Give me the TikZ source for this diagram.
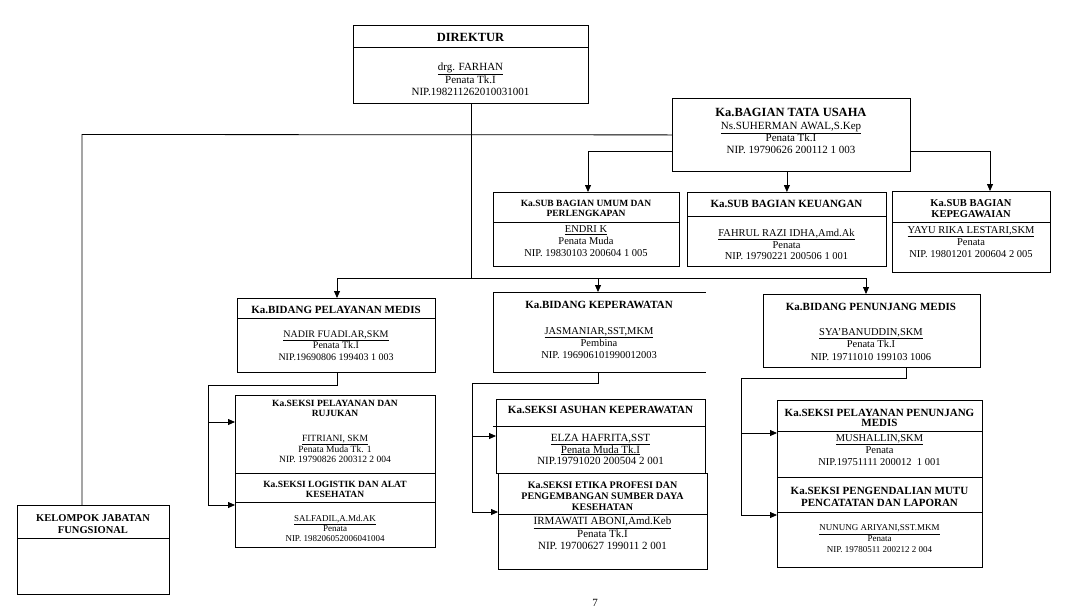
\documentclass[tikz,border=0pt]{standalone}
\usepackage{fontspec}
\setmainfont{Liberation Serif}
\usetikzlibrary{arrows.meta}
\newcommand{\fsz}[2]{\fontsize{#1}{#2}\selectfont}
\begin{document}
\begin{tikzpicture}[x=1pt,y=-1pt,
  box/.style={draw,line width=0.8pt,inner sep=0pt,anchor=north west},
  txt/.style={inner sep=0pt,align=center},
  ln/.style={line width=0.8pt},
  arr/.style={line width=0.8pt,-{Triangle[length=7pt,width=6pt]}}]
\useasboundingbox (0,0) rectangle (1067,608);
% boxes
\node[box,minimum width=235pt,minimum height=78pt] (dir) at (353,25) {};
\node[box,minimum width=238pt,minimum height=73pt] (tu) at (672,98) {};
\node[box,minimum width=186pt,minimum height=74pt] (sb1) at (493,192) {};
\node[box,minimum width=199pt,minimum height=74pt] (sb2) at (687,192) {};
\node[box,minimum width=158pt,minimum height=81pt] (sb3) at (892,191) {};
\node[box,minimum width=198pt,minimum height=74pt] (b1) at (237,298) {};
\node[box,draw=none,minimum width=212pt,minimum height=80pt] (b2) at (493,292) {};
\draw[ln] (b2.north east) -- (b2.north west) -- (b2.south west) -- (b2.south east);
\node[box,minimum width=217pt,minimum height=73pt] (b3) at (763,294) {};
\node[box,minimum width=200pt,minimum height=78pt] (s1a) at (235,395) {};
\node[box,minimum width=200pt,minimum height=74pt] (s1b) at (235,473) {};
\node[box,minimum width=209pt,minimum height=74pt] (s2a) at (496,399) {};
\node[box,minimum width=209pt,minimum height=96pt] (s2b) at (498,473) {};
\node[box,minimum width=205pt,minimum height=77pt] (s3a) at (777,400) {};
\node[box,minimum width=205pt,minimum height=90pt] (s3b) at (777,477) {};
\node[box,minimum width=152pt,minimum height=89pt] (kel) at (17,505) {};
% dividers
\draw[ln] (353,47) -- (588,47);
\draw[ln] (493,222) -- (679,222);
\draw[ln] (687,216) -- (886,216);
\draw[ln] (892,222) -- (1050,222);
\draw[ln] (237,318) -- (435,318);
\draw[ln] (235,502) -- (435,502);
\draw[ln] (493,426) -- (705,426);
\draw[ln] (498,514) -- (707,514);
\draw[ln] (777,431) -- (982,431);
\draw[ln] (777,512) -- (982,512);
\draw[ln] (17,538) -- (169,538);
% texts
\node[txt,font=\fsz{12.5}{14}\bfseries] (dirT) at (470.5,37) {DIREKTUR};
\node[txt,font=\fsz{11}{12.5}] (dirB) at (470.5,79.5) {\underline{drg. FARHAN}\\Penata Tk.I\\NIP.198211262010031001};
\node[txt,font=\fsz{12.5}{14}\bfseries] (tuT) at (791,112) {Ka.BAGIAN TATA USAHA};
\node[txt,font=\fsz{11}{12}] (tuB) at (791,138) {\underline{Ns.SUHERMAN AWAL,S.Kep}\\Penata Tk.I\\NIP. 19790626 200112 1 003};
\node[txt,font=\fsz{9.5}{10}\bfseries] (sb1T) at (586,208) {Ka.SUB BAGIAN UMUM DAN\\PERLENGKAPAN};
\node[txt,font=\fsz{10.5}{12}] (sb1B) at (586,241) {\underline{ENDRI K}\\Penata Muda\\NIP. 19830103 200604 1 005};
\node[txt,font=\fsz{11}{12}\bfseries] (sb2T) at (786.5,204) {Ka.SUB BAGIAN KEUANGAN};
\node[txt,font=\fsz{10.5}{11.5}] (sb2B) at (786.5,244.5) {\underline{FAHRUL RAZI IDHA,Amd.Ak}\\Penata\\NIP. 19790221 200506 1 001};
\node[txt,font=\fsz{10.5}{11}\bfseries] (sb3T) at (971,208.5) {Ka.SUB BAGIAN\\KEPEGAWAIAN};
\node[txt,font=\fsz{10.5}{12}] (sb3B) at (971,242) {\underline{YAYU RIKA LESTARI,SKM}\\Penata\\NIP. 19801201 200604 2 005};
\node[txt,font=\fsz{11}{12}\bfseries] (b1T) at (336,310) {Ka.BIDANG PELAYANAN MEDIS};
\node[txt,font=\fsz{10}{11.5}] (b1B) at (336,345.5) {\underline{NADIR FUADI.AR,SKM}\\Penata Tk.I\\NIP.19690806 199403 1 003};
\node[txt,font=\fsz{11}{12}\bfseries] (b2T) at (599,305) {Ka.BIDANG KEPERAWATAN};
\node[txt,font=\fsz{10.5}{12}] (b2B) at (599,343) {\underline{JASMANIAR,SST,MKM}\\Pembina\\NIP. 196906101990012003};
\node[txt,font=\fsz{11}{12}\bfseries] (b3T) at (871,307) {Ka.BIDANG PENUNJANG MEDIS};
\node[txt,font=\fsz{10.5}{12.5}] (b3B) at (871,344.5) {\underline{SYA’BANUDDIN,SKM}\\Penata Tk.I\\NIP. 19711010 199103 1006};
\node[txt,font=\fsz{9.5}{9.5}\bfseries] (s1aT) at (335,408.5) {Ka.SEKSI PELAYANAN DAN\\RUJUKAN};
\node[txt,font=\fsz{9.5}{10}] (s1aB) at (335,449) {\underline{FITRIANI, SKM}\\Penata Muda Tk. 1\\NIP. 19790826 200312 2 004};
\node[txt,font=\fsz{9.5}{10}\bfseries] (s1bT) at (335,489) {Ka.SEKSI LOGISTIK DAN ALAT\\KESEHATAN};
\node[txt,font=\fsz{9}{10}] (s1bB) at (335,528) {\underline{SALFADIL,A.Md.AK}\\Penata\\NIP. 198206052006041004};
\node[txt,font=\fsz{11}{12}\bfseries] (s2aT) at (600.5,410) {Ka.SEKSI ASUHAN KEPERAWATAN};
\node[txt,font=\fsz{11}{11.5}] (s2aB) at (600.5,449.5) {\underline{ELZA HAFRITA,SST}\\\underline{Penata Muda Tk.I}\\NIP.19791020 200504 2 001};
\node[txt,font=\fsz{10}{11}\bfseries] (s2bT) at (602.5,496) {Ka.SEKSI ETIKA PROFESI DAN\\PENGEMBANGAN SUMBER DAYA\\KESEHATAN};
\node[txt,font=\fsz{11}{12.5}] (s2bB) at (602.5,533.5) {\underline{IRMAWATI ABONI,Amd.Keb}\\Penata Tk.I\\NIP. 19700627 199011 2 001};
\node[txt,font=\fsz{11}{10}\bfseries] (s3aT) at (879.5,418) {Ka.SEKSI PELAYANAN PENUNJANG\\MEDIS};
\node[txt,font=\fsz{10.5}{12}] (s3aB) at (879.5,450) {\underline{MUSHALLIN,SKM}\\Penata\\NIP.19751111 200012~~1 001};
\node[txt,font=\fsz{11}{12}\bfseries] (s3bT) at (879.5,497) {Ka.SEKSI PENGENDALIAN MUTU\\PENCATATAN DAN LAPORAN};
\node[txt,font=\fsz{9}{11}] (s3bB) at (879.5,539) {\underline{NUNUNG ARIYANI,SST.MKM}\\Penata\\NIP. 19780511 200212 2 004};
\node[txt,font=\fsz{10.5}{12}\bfseries] (kelT) at (93,524) {KELOMPOK JABATAN\\FUNGSIONAL};
\node[txt,font=\fsz{11}{12}] (pg) at (595,603) {7};
% connector coordinates
\coordinate (barL) at (337,278);
\coordinate (barR) at (866,278);
\coordinate (k1) at (82,134.5);
\coordinate (t1) at (588,151);
\coordinate (t3) at (990,151);
\coordinate (c1) at (337,385);
\coordinate (c1l) at (208,385);
\coordinate (a1) at (208,422);
\coordinate (a2) at (208,505);
\coordinate (c2) at (598,383);
\coordinate (c2l) at (472,383);
\coordinate (d1) at (472,436);
\coordinate (d2) at (472,512);
\coordinate (c3) at (906,378);
\coordinate (c3l) at (741,378);
\coordinate (e1) at (741,433);
\coordinate (e2) at (741,515);
% connectors
\draw[ln] (dir.south) -- (dir.south |- barL);
\draw[ln] (barL) -- (barR);
\draw[arr] (barL) -- (barL |- b1.north);
\draw[arr] (c2 |- barL) -- (c2 |- b2.north);
\draw[arr] (barR) -- (barR |- b3.north);
\draw[ln] (tu.west) -- (k1) -- (k1 |- kel.north);
\draw[arr] (tu.west |- t1) -- (t1) -- (t1 |- sb1.north);
\draw[arr] (sb2.north |- tu.south) -- (sb2.north);
\draw[arr] (tu.east |- t3) -- (t3) -- (t3 |- sb3.north);
\draw[ln] (c1 |- b1.south) -- (c1) -- (c1l) -- (a2);
\draw[arr] (a1) -- (a1 -| s1a.west);
\draw[arr] (a2) -- (a2 -| s1b.west);
\draw[ln] (c2 |- b2.south) -- (c2) -- (c2l) -- (d2);
\draw[arr] (d1) -- (d1 -| s2a.west);
\draw[arr] (d2) -- (d2 -| s2b.west);
\draw[ln] (c3 |- b3.south) -- (c3) -- (c3l) -- (e2);
\draw[arr] (e1) -- (e1 -| s3a.west);
\draw[arr] (e2) -- (e2 -| s3b.west);
\end{tikzpicture}
\end{document}
